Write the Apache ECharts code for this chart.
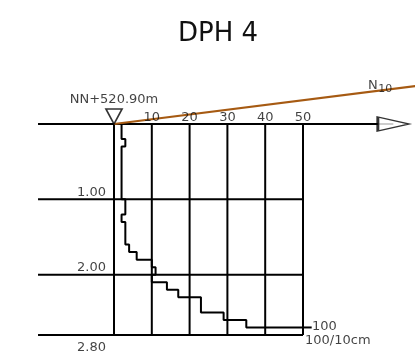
<!DOCTYPE html>
<html>
<head>
<meta charset="utf-8">
<script src="https://cdn.jsdelivr.net/npm/echarts@6/dist/echarts.min.js"></script>
<style>
  html, body { margin: 0; padding: 0; background: #fff; }
  #chart { width: 415px; height: 361px; }
</style>
</head>
<body>
<div id="chart"></div>
<script>
// DPH 4 - blows per 10cm
const stepDepth = 0.1 // m per reading
const blows = [2, 2, 3, 2, 2, 2, 2, 2, 2, 2,
               3, 3, 2, 3, 3, 3, 4, 6, 10, 11,
               10, 14, 17, 23, 23, 29, 35, 100]
const xTicks = [0, 10, 20, 30, 40, 50]
const depthLabels = [1.00, 2.00, 2.80]
const trendLine = [[0, 0], [80, -0.505]] // N10 reference line
const startLevel = 'NN+520.90m'
const endDepth = 2.8

const xMax = 50
const leftEdge = -20.1 // where the depth lines start
const arrowAt = 73.9

// the plot frame fills the canvas; value range chosen so 0..50 sits at 114..303px
// and 0..2.8m at 124..335px
const xRange = [-30.159, 79.63]
const yRange = [-1.6455, 3.145]

const font = 'DejaVu Sans'
const ink = '#000'

// step outline built from the blow counts
const stepPts = []
blows.forEach((n, i) => {
  const v = Math.min(n, xMax)
  stepPts.push([v, +(i * stepDepth).toFixed(1)])
  stepPts.push([v, +((i + 1) * stepDepth).toFixed(1)])
})
const lastDepth = +((blows.length - 1) * stepDepth).toFixed(1)
const lastN = blows[blows.length - 1]

const chart = echarts.init(document.getElementById('chart'))

function seg(data, width, color, z) {
  return {
    type: 'line',
    data: data,
    symbol: 'none',
    silent: true,
    lineStyle: { color: color || ink, width: width || 2 },
    z: z || 2
  }
}

const depthLineSeries = depthLabels.map(d => seg([[leftEdge, d], [xMax, d]]))
const vertLineSeries = xTicks.map(v => seg([[v, 0], [v, endDepth]]))

chart.setOption({
  animation: false,
  textStyle: { fontFamily: font },
  title: {
    text: 'DPH 4',
    left: 173,
    top: 16,
    textStyle: { fontFamily: font, fontSize: 26, fontWeight: 'normal', color: '#111' }
  },
  grid: { left: 0, top: 0, right: 0, bottom: 0 },
  xAxis: {
    type: 'value',
    min: xRange[0],
    max: xRange[1],
    show: false
  },
  yAxis: {
    type: 'value',
    inverse: true,
    min: yRange[0],
    max: yRange[1],
    show: false
  },
  series: [
    ...depthLineSeries,
    ...vertLineSeries,
    seg([[leftEdge, 0], [arrowAt, 0]], 2, ink, 3), // top axis
    seg(trendLine, 2, '#a65a12', 4),
    seg(stepPts, 2, ink, 5),
    seg([[xMax, lastDepth], [xMax + 2.3, lastDepth]], 2, ink, 5), // overflow tick
    {
      // arrow head
      type: 'scatter',
      data: [[arrowAt, 0]],
      symbol: 'path://M0,0 L31,7 L0,14 Z',
      symbolSize: [31, 14],
      itemStyle: { color: '#fff', borderColor: ink, borderWidth: 2 },
      z: 10
    },
    {
      // start level marker
      type: 'scatter',
      data: [[0, 0]],
      symbol: 'path://M0,0 L16,0 L8,15 Z',
      symbolSize: [16, 15],
      symbolOffset: [0, -7.5],
      itemStyle: { color: '#fff', borderColor: ink, borderWidth: 1.7 },
      label: {
        show: true,
        position: 'top',
        distance: 2,
        formatter: startLevel,
        fontSize: 13,
        color: '#111'
      },
      z: 10
    },
    {
      // text labels
      type: 'scatter',
      symbolSize: 0,
      silent: true,
      label: { show: true, fontSize: 13, color: '#111' },
      data: [
        ...xTicks.filter(v => v > 0).map(v => ({
          value: [v, 0],
          label: { formatter: String(v), position: 'top', distance: 0 }
        })),
        ...depthLabels.map(d => ({
          value: [0, d],
          label: {
            formatter: d.toFixed(2),
            position: 'left',
            distance: 8,
            offset: d === endDepth ? [0, 13] : [0, -7]
          }
        })),
        {
          value: [xMax, lastDepth],
          label: { formatter: String(lastN), position: 'right', distance: 9, offset: [0, -0.5] }
        },
        {
          value: [xMax, lastDepth],
          label: { formatter: lastN + '/10cm', position: 'right', distance: 2, offset: [0, 13.5] }
        },
        {
          value: [67.2, -0.51],
          label: { formatter: 'N', position: 'right', distance: 0, fontSize: 13 }
        },
        {
          value: [69.9, -0.464],
          label: { formatter: '10', position: 'right', distance: 0, fontSize: 11 }
        }
      ],
      z: 12
    }
  ]
})
</script>
</body>
</html>
